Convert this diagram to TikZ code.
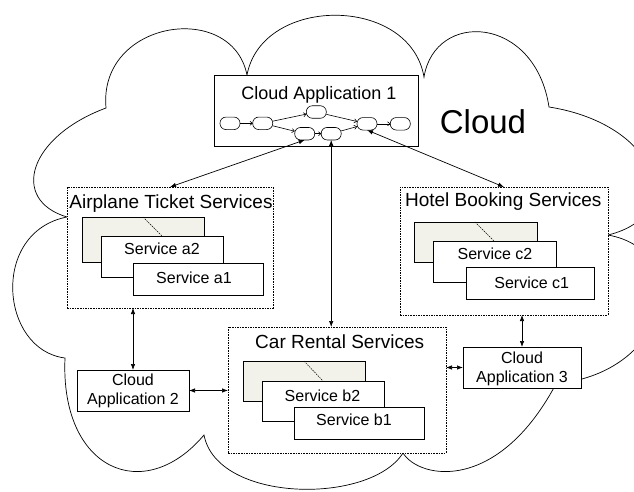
\documentclass[tikz,border=0pt]{standalone}
\usepackage{fontspec}
\setmainfont{Liberation Sans}
\usetikzlibrary{arrows.meta,calc}
\definecolor{backfill}{RGB}{242,242,234}
\begin{document}
\begin{tikzpicture}[x=1pt,y=-1pt,
  every node/.style={inner sep=0pt, outer sep=0pt},
  bx/.style={draw=black, line width=0.7pt, fill=white, rectangle},
  backbx/.style={draw=black, line width=0.7pt, fill=backfill, rectangle},
  grp/.style={draw=black, line width=0.6pt, dash pattern=on 1.6pt off 1pt, fill=white, rectangle},
  pill/.style={draw=black, line width=0.6pt, fill=white, rounded corners=6pt, minimum width=20pt, minimum height=12.5pt},
  flow/.style={line width=0.6pt, -{To[length=3pt,width=4.5pt]}},
  link/.style={line width=0.7pt, {Latex[length=6pt,width=4.5pt]}-{Latex[length=6pt,width=4.5pt]}},
  ttl/.style={anchor=base, font=\fontsize{19}{22}\selectfont},
  svc/.style={anchor=base, font=\fontsize{16}{19}\selectfont, align=center},
  diag/.style={line width=0.5pt, dash pattern=on 1.5pt off 1pt}
]
\useasboundingbox (0,0) rectangle (634,491);
\clip (0,0) rectangle (634,491);
\fill[white] (0,0) rectangle (634,491);

% cloud outline
\draw[line width=0.7pt] (106,108)
  .. controls (98,20) and (232,0) .. (247,75)
  .. controls (262,-5) and (410,-5) .. (424,77)
  .. controls (435,10) and (535,15) .. (549,107)
  .. controls (658,124) and (690,215) .. (608,235)
  .. controls (690,250) and (673,357) .. (578,380)
  -- (558,380)
  .. controls (500,493) and (420,480) .. (403,453)
  .. controls (370,505) and (217,503) .. (204,435)
  .. controls (144,506) and (60,470) .. (65,358)
  .. controls (0,350) and (-10,232) .. (67,217)
  .. controls (10,200) and (28,137) .. (106,108) -- cycle;

\node[font=\fontsize{33}{36}\selectfont, anchor=base] (cloudlbl) at (483,133) {Cloud};

% Cloud Application 1
\node[bx, minimum width=204pt, minimum height=71pt] (ca1) at (316,110.5) {};
\node[ttl, font=\fontsize{18}{21}\selectfont] (ca1t) at (319,99) {Cloud Application 1};
\node[pill] (f1) at (230,123.3) {};
\node[pill] (f2) at (262.7,123.3) {};
\node[pill] (f3) at (316.3,112) {};
\node[pill] (f4) at (304.7,133.7) {};
\node[pill] (f5) at (331.2,133.7) {};
\node[pill] (f6) at (367,123.8) {};
\node[pill] (f7) at (400.3,123.8) {};
\draw[flow] (f1) -- (f2);
\draw[flow] (f2) -- (f3);
\draw[flow] (f2) -- (f4);
\draw[flow] (f4) -- (f5);
\draw[flow] (f3) -- (f6);
\draw[flow] (f5) -- (f6);
\draw[flow] (f6) -- (f7);

% Airplane group
\node[grp, minimum width=206pt, minimum height=121pt] (air) at (170,247.5) {};
\node[ttl] (airt) at (171,208.5) {Airplane Ticket Services};
\node[backbx, minimum width=122pt, minimum height=45pt] (ba) at (143,239.5) {};
\draw[diag] ($(ba.north west)+(61,0)$) -- ($(ba.north west)+(80,19)$);
\node[bx, minimum width=122pt, minimum height=41pt] (a2) at (162,256.5) {};
\node[svc] (a2t) at (162,254) {Service a2};
\node[bx, minimum width=130pt, minimum height=32pt] (a1) at (198,279) {};
\node[svc] (a1t) at (194,283) {Service a1};

% Hotel group
\node[grp, minimum width=208pt, minimum height=128pt] (hotel) at (504,251) {};
\node[ttl] (hotelt) at (503.3,206.7) {Hotel Booking Services};
\node[backbx, minimum width=123pt, minimum height=40pt] (bc) at (475.5,242) {};
\draw[diag] ($(bc.north west)+(61,0)$) -- ($(bc.north west)+(80,19)$);
\node[bx, minimum width=123pt, minimum height=41pt] (c2) at (494.5,261.5) {};
\node[svc] (c2t) at (495,259) {Service c2};
\node[bx, minimum width=128pt, minimum height=32pt] (c1) at (530,283) {};
\node[svc] (c1t) at (531.7,288.3) {Service c1};

% Car group
\node[grp, minimum width=218pt, minimum height=126pt] (car) at (337,390) {};
\node[ttl] (cart) at (339.7,348.3) {Car Rental Services};
\node[backbx, minimum width=122pt, minimum height=40pt] (bb) at (304,381) {};
\draw[diag] ($(bb.north west)+(61,0)$) -- ($(bb.north west)+(80,20)$);
\node[bx, minimum width=122pt, minimum height=40pt] (b2) at (323,401) {};
\node[svc] (b2t) at (322.5,401.7) {Service b2};
\node[bx, minimum width=130pt, minimum height=32pt] (b1) at (359,423) {};
\node[svc] (b1t) at (354,425) {Service b1};

% Cloud Application 2 and 3
\node[bx, minimum width=112pt, minimum height=41pt] (ca2) at (133,390.5) {};
\node[svc, font=\fontsize{16}{18.5}\selectfont] (ca2t) at (133,404.2) {Cloud\\Application 2};
\node[bx, minimum width=118pt, minimum height=41pt] (ca3) at (522,367.5) {};
\node[svc, font=\fontsize{16}{19.5}\selectfont] (ca3t) at (522,382.5) {Cloud\\Application 3};

% links
\draw[link] (air.north) -- (f4.south);
\draw[link] (f5.south) -- (f5.south |- car.north);
\draw[link] (hotel.north) -- (f6.south);
\draw[link] (ca2.north) -- (ca2.north |- air.south);
\draw[link] (ca2.east) -- (ca2.east -| car.west);
\draw[link] (ca3.north) -- (ca3.north |- hotel.south);
\draw[link] (ca3.west) -- (ca3.west -| car.east);
\end{tikzpicture}
\end{document}
